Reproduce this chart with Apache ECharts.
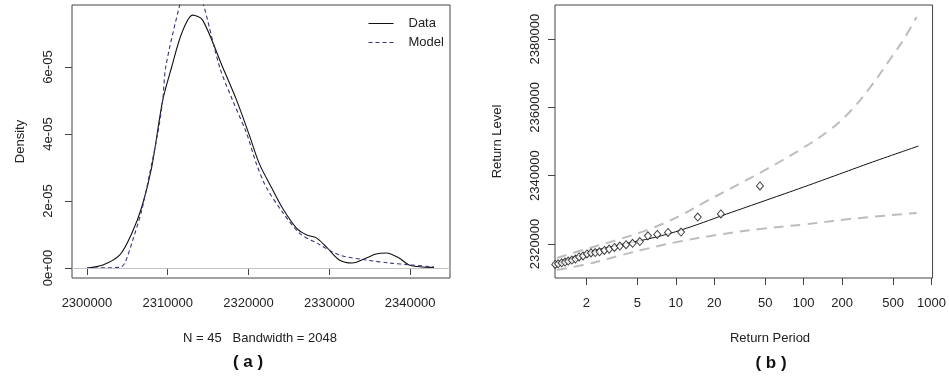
<!DOCTYPE html>
<html>
<head>
<meta charset="utf-8">
<script src="https://cdn.jsdelivr.net/npm/echarts@6/dist/echarts.min.js"></script>
<style>
    html, body { margin: 0; padding: 0; background: #fff; }
    #chart { width: 949px; height: 376px; }
</style>
</head>
<body>
<div id="chart"></div>
<script>
// (a) kernel density of the data vs fitted model, density in units of 1e-05
const densX = [2300000, 2301980, 2304070, 2305560, 2306790, 2308020, 2309380, 2310490, 2311730, 2313090,
    2314320, 2316790, 2318520, 2320120, 2321360, 2322960, 2324200, 2325930, 2327160, 2328400,
    2329630, 2331230, 2332840, 2334570, 2335800, 2337040, 2338640, 2339880, 2341480, 2342960]
const densY = [0, 0.09, 0.39, 1.04, 1.82, 3.01, 5.01, 6.0, 7.01, 7.55,
    7.40, 6.0, 5.01, 3.95, 3.1, 2.35, 1.79, 1.19, 0.99, 0.90,
    0.63, 0.24, 0.15, 0.30, 0.42, 0.45, 0.30, 0.09, 0.03, 0.02]
const modelX = [2300000, 2304070, 2304690, 2305680, 2306790, 2307780, 2308770, 2309380, 2309750, 2311480,
    2312100, 2312900, 2313700, 2314440, 2316420, 2318020, 2319750, 2320990, 2322220, 2324200,
    2326300, 2328400, 2331230, 2334570, 2337410, 2340250, 2342960]
const modelY = [0, 0.02, 0.15, 0.84, 1.73, 2.84, 4.03, 5.01, 6.0, 7.85,
    8.3, 8.45, 8.3, 7.85, 6.0, 5.01, 4.03, 3.1, 2.4, 1.67,
    1.04, 0.75, 0.39, 0.24, 0.15, 0.09, 0.03]
const densTicksX = [2300000, 2310000, 2320000, 2330000, 2340000]
const densTicksY = [0, 2e-5, 4e-5, 6e-5]

// (b) return level plot
const obsPeriod = [1.14, 1.20, 1.28, 1.36, 1.44, 1.54, 1.64, 1.75, 1.88, 2.02, 2.17, 2.34, 2.53, 2.76,
    3.01, 3.31, 3.65, 4.08, 4.59, 5.23, 6.05, 7.16, 8.69, 10.99, 14.84, 22.5, 45.5]
const obsLevel = [2314000, 2314200, 2314500, 2314700, 2315000, 2315300, 2315600, 2316200, 2316500, 2317100,
    2317400, 2317500, 2317700, 2318100, 2318500, 2319000, 2319400, 2319800, 2320200, 2320700,
    2322400, 2322800, 2323400, 2323500, 2327900, 2328800, 2337000]
const fitPeriod = [1.135, 1.877, 3.46, 6.27, 10.7, 25.0, 51.4, 100, 191, 346, 791]
const fitLevel = [2313850, 2317070, 2319560, 2321610, 2323950, 2328780, 2332880, 2336690, 2340500, 2344010, 2348690]
const upPeriod = [1.176, 1.877, 3.46, 6.27, 10.7, 16.3, 26.4, 45.3, 93.1, 159.6, 228.7, 328, 470, 615, 764]
const upLevel = [2315900, 2318240, 2321170, 2324390, 2328200, 2332000, 2336100, 2340790, 2347520, 2353380,
    2358650, 2365680, 2373880, 2380320, 2386470]
const lowPeriod = [1.176, 2.21, 3.65, 6.27, 10.7, 20.9, 45.3, 100, 228.7, 764]
const lowLevel = [2312390, 2314440, 2316630, 2318830, 2320730, 2322640, 2324390, 2325710, 2327320, 2329080]
const periodTicks = [2, 5, 10, 20, 50, 100, 200, 500, 1000]
const levelTicks = [2320000, 2340000, 2360000, 2380000]

const FONT = 'Liberation Sans, Arial, sans-serif'
const TXT = '#222'
const pairs = (xs, ys, fx, fy) => xs.map((x, i) => [fx ? fx(x) : x, fy ? fy(ys[i]) : ys[i]])
const lg = v => Math.log10(v)
const e5 = v => v * 1e-5

function sciLabel(v) {
    // R style: 2e-05, 0e+00
    const s = Number(v).toExponential(0)
    return s.replace(/e([+-])(\d)$/, 'e$10$2')
}

const tickStyle = { show: true, length: 7, lineStyle: { color: '#444', width: 1 } }
const labelStyle = { fontSize: 13, color: TXT, fontFamily: FONT }

let options = {
    backgroundColor: '#fff',
    animation: false,
    textStyle: { fontFamily: FONT },
    grid: [
        { left: 72, top: 5, width: 378, height: 273, show: true, borderColor: '#444', borderWidth: 1, backgroundColor: '#fff' },
        { left: 555, top: 5, width: 378, height: 273, show: true, borderColor: '#444', borderWidth: 1, backgroundColor: '#fff' }
    ],
    legend: {
        data: ['Data', 'Model'],
        orient: 'vertical',
        left: 368,
        top: 17,
        padding: 0,
        itemWidth: 25,
        itemHeight: 10,
        itemGap: 6,
        itemStyle: { opacity: 0 },
        lineStyle: { width: 1 },
        textStyle: { fontSize: 13, color: TXT, fontFamily: FONT, padding: [0, 0, 0, 10] }
    },
    xAxis: [
        {
            gridIndex: 0, type: 'value', min: 2298150, max: 2344940,
            axisLine: { show: false }, splitLine: { show: false },
            axisTick: { ...tickStyle, customValues: densTicksX },
            axisLabel: { ...labelStyle, margin: 19, customValues: densTicksX, formatter: v => String(v) }
        },
        {
            gridIndex: 1, type: 'value', min: 0.055, max: 3.008,
            axisLine: { show: false }, splitLine: { show: false },
            axisTick: { ...tickStyle, customValues: periodTicks.map(lg) },
            axisLabel: { ...labelStyle, margin: 19, customValues: periodTicks.map(lg), formatter: v => String(Math.round(Math.pow(10, v))) }
        }
    ],
    yAxis: [
        {
            gridIndex: 0, type: 'value', min: -2.985e-6, max: 7.851e-5,
            axisLine: { show: false }, splitLine: { show: false },
            axisTick: { ...tickStyle, customValues: densTicksY },
            axisLabel: { ...labelStyle, rotate: 90, margin: 17, customValues: densTicksY, formatter: sciLabel },
            name: 'Density', nameLocation: 'middle', nameRotate: 90, nameGap: 45,
            nameTextStyle: { fontSize: 13, color: TXT, fontFamily: FONT }
        },
        {
            gridIndex: 1, type: 'value', min: 2310045, max: 2389980,
            axisLine: { show: false }, splitLine: { show: false },
            axisTick: { ...tickStyle, customValues: levelTicks },
            axisLabel: { ...labelStyle, rotate: 90, margin: 13, customValues: levelTicks, formatter: v => String(v) },
            name: 'Return Level', nameLocation: 'middle', nameRotate: 90, nameGap: 51,
            nameTextStyle: { fontSize: 13, color: TXT, fontFamily: FONT }
        }
    ],
    graphic: [
        { type: 'text', style: { text: 'N = 45   Bandwidth = 2048', font: '13px ' + FONT, fill: TXT, x: 260, y: 338, align: 'center', verticalAlign: 'middle' } },
        { type: 'text', style: { text: '( a )', font: 'bold 17px ' + FONT, fill: '#111', x: 248, y: 362, align: 'center', verticalAlign: 'middle' } },
        { type: 'text', style: { text: 'Return Period', font: '13px ' + FONT, fill: TXT, x: 770, y: 338, align: 'center', verticalAlign: 'middle' } },
        { type: 'text', style: { text: '( b )', font: 'bold 17px ' + FONT, fill: '#111', x: 771, y: 363, align: 'center', verticalAlign: 'middle' } }
    ],
    series: [
        {
            name: 'Data', type: 'line', xAxisIndex: 0, yAxisIndex: 0,
            data: pairs(densX, densY, null, e5),
            smooth: 0.3, symbol: 'none', showSymbol: false,
            lineStyle: { color: '#111', width: 1.1, type: 'solid' },
            itemStyle: { color: '#111' },
            markLine: {
                silent: true, symbol: 'none', label: { show: false },
                lineStyle: { color: '#c4c4c4', type: 'solid', width: 1 },
                data: [{ yAxis: 0 }]
            },
            z: 3
        },
        {
            name: 'Model', type: 'line', xAxisIndex: 0, yAxisIndex: 0,
            data: pairs(modelX, modelY, null, e5),
            smooth: 0.3, symbol: 'none', showSymbol: false,
            lineStyle: { color: '#34347e', width: 1.1, type: [4, 3] },
            itemStyle: { color: '#34347e' },
            z: 4
        },
        {
            type: 'line', xAxisIndex: 1, yAxisIndex: 1,
            data: pairs(lowPeriod, lowLevel, lg),
            smooth: 0.4, symbol: 'none',
            lineStyle: { color: '#bdbdbd', width: 2, type: [10, 7] }
        },
        {
            type: 'line', xAxisIndex: 1, yAxisIndex: 1,
            data: pairs(upPeriod, upLevel, lg),
            smooth: 0.4, symbol: 'none',
            lineStyle: { color: '#bdbdbd', width: 2, type: [10, 7] }
        },
        {
            type: 'line', xAxisIndex: 1, yAxisIndex: 1,
            data: pairs(fitPeriod, fitLevel, lg),
            smooth: 0.4, symbol: 'none',
            lineStyle: { color: '#111', width: 1 }
        },
        {
            type: 'scatter', xAxisIndex: 1, yAxisIndex: 1,
            data: pairs(obsPeriod, obsLevel, lg),
            symbol: 'diamond', symbolSize: [7, 8],
            itemStyle: { color: '#fff', borderColor: '#111', borderWidth: 1 },
            z: 5
        }
    ]
}

const chart = echarts.init(document.getElementById('chart'), null, { renderer: 'canvas' })
chart.setOption(options)
</script>
</body>
</html>
